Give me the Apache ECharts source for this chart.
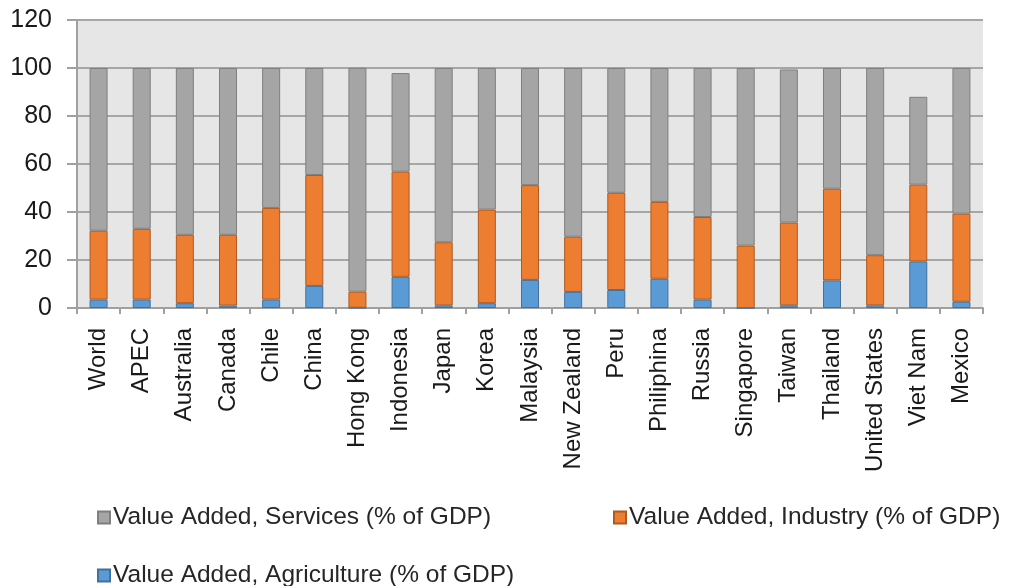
<!DOCTYPE html>
<html>
<head>
<meta charset="utf-8">
<script src="https://cdn.jsdelivr.net/npm/echarts@6/dist/echarts.min.js"></script>
<style>html,body{margin:0;padding:0;background:#fff}#c{width:1021px;height:586px}</style>
</head>
<body>
<div id="c"></div>
<script>
const categories = ["World","APEC","Australia","Canada","Chile","China","Hong Kong","Indonesia","Japan","Korea","Malaysia","New Zealand","Peru","Philiphina","Russia","Singapore","Taiwan","Thailand","United States","Viet Nam","Mexico"];
const agriculture = [3.5,3.5,2,1,3.5,9.2,0.1,13,1.1,2,11.7,6.7,7.5,12.2,3.5,0,1.1,11.5,1.1,19.4,2.6];
const industry = [28.7,29.5,28.5,29.5,38.2,46.2,6.7,43.8,26.3,39,39.5,23,40.5,32,34.4,26,34.5,38.2,20.9,32,36.7];
const services = [67.8,67,69.5,69.5,58.3,44.6,93.3,41.1,72.6,59,48.8,70.3,52,55.8,62.1,74,63.8,50.3,78,36.6,60.7];
const yTicks = [0,20,40,60,80,100,120];
const names = ["Value Added, Services (% of GDP)","Value Added, Industry (% of GDP)","Value Added, Agriculture (% of GDP)"];

const chart = echarts.init(document.getElementById('c'), null, {renderer:'canvas'});
const FONT = '"Liberation Sans", Arial, sans-serif';
const legendText = {fontFamily: FONT, fontSize: 24.5, color: '#262626', padding:[0,0,0,-2]};
function leg(name, left, top){
  return {data:[name], left:left, top:top, itemWidth:12, itemHeight:12, icon:'rect', textStyle:legendText, selectedMode:false, padding:0};
}
chart.setOption({
  animation:false,
  backgroundColor:'#ffffff',
  grid:{left:77, right:38, top:20, bottom:278, show:true, backgroundColor:'#e6e6e6', borderWidth:0},
  legend:[leg(names[0], 97, 505), leg(names[1], 613, 505), leg(names[2], 97, 563)],
  xAxis:{
    type:'category', data:categories,
    axisLine:{show:true, lineStyle:{color:'#a0a0a0', width:2}},
    axisTick:{show:true, length:6, lineStyle:{color:'#a0a0a0', width:2}},
    axisLabel:{rotate:90, margin:20, fontFamily:FONT, fontSize:24, color:'#1a1a1a', interval:0}
  },
  yAxis:{
    type:'value', min:0, max:120, interval:20,
    axisLine:{show:true, lineStyle:{color:'#a0a0a0', width:2}},
    axisTick:{show:true, inside:false, length:10, lineStyle:{color:'#a0a0a0', width:2}},
    splitLine:{show:true, lineStyle:{color:'#a6a6a6', width:2}},
    axisLabel:{margin:25, fontFamily:FONT, fontSize:25, color:'#1a1a1a',
      formatter: v => yTicks.includes(v) ? String(v) : ''}
  },
  series:[
    {name:names[2], type:'bar', stack:'s', data:agriculture, barWidth:18,
      itemStyle:{color:'#5b9bd5', borderColor:'#41719c', borderWidth:1}},
    {name:names[1], type:'bar', stack:'s', data:industry, barWidth:18,
      itemStyle:{color:'#ed7d31', borderColor:'#ae5a21', borderWidth:1}},
    {name:names[0], type:'bar', stack:'s', data:services, barWidth:18,
      itemStyle:{color:'#a5a5a5', borderColor:'#7f7f7f', borderWidth:1}}
  ]
});
</script>
</body>
</html>
